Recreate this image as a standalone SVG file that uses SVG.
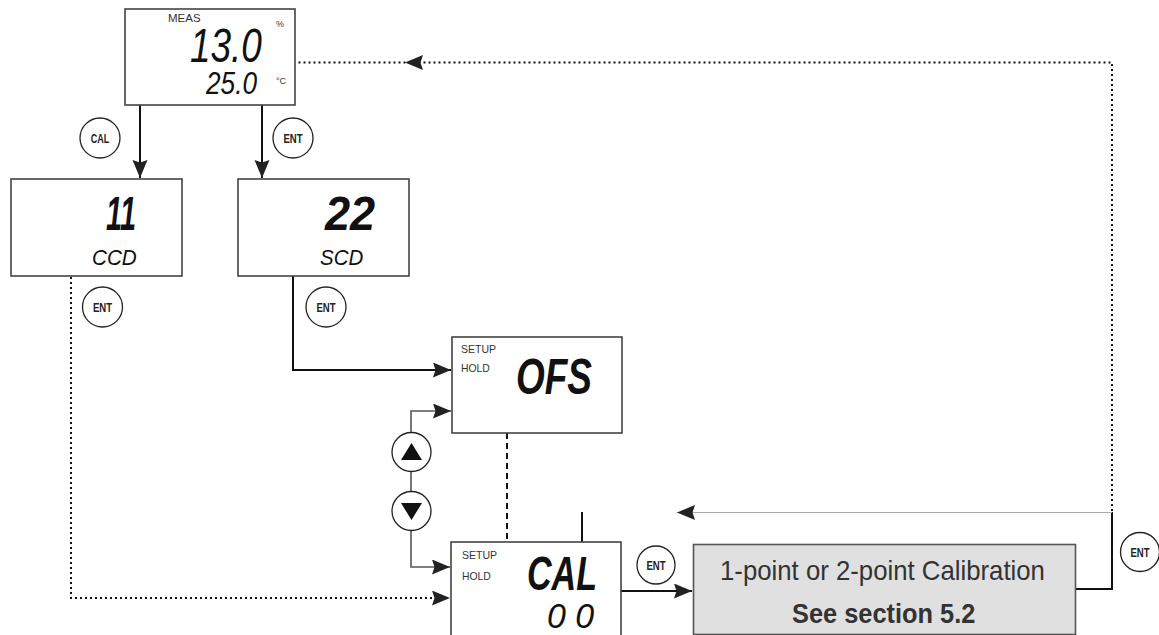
<svg xmlns="http://www.w3.org/2000/svg" width="1159" height="635" viewBox="0 0 1159 635">
<defs>
<style>
.box{fill:#fff;stroke:#444;stroke-width:1.6}
.calbox{fill:#e0e0e0;stroke:#555;stroke-width:1.6}
.btn{fill:#fff;stroke:#222;stroke-width:1.3}
.lbl{font-family:"Liberation Sans",Arial,sans-serif;fill:#333}
.seg{font-family:"Liberation Sans",Arial,sans-serif;font-style:italic;fill:#111}
.key{font-family:"Liberation Sans",Arial,sans-serif;font-weight:bold;font-size:12px;fill:#222;text-anchor:middle}
.solid{fill:none;stroke:#111;stroke-width:2}
.thin{fill:none;stroke:#555;stroke-width:1.6}
.dot{fill:none;stroke:#111;stroke-width:2;stroke-dasharray:2 3}
.dash{fill:none;stroke:#111;stroke-width:2;stroke-dasharray:6 4}
.grey{fill:none;stroke:#aaa;stroke-width:1.2}
</style>
<marker id="ah" markerUnits="userSpaceOnUse" markerWidth="19" markerHeight="16" refX="18" refY="7.5" orient="auto">
<path d="M0,0 L18,7.5 L0,15 L2.5,7.5 z" fill="#222"/>
</marker>
</defs>

<g id="connectors">
<path class="solid" d="M140,105 V178" marker-end="url(#ah)"/>
<path class="solid" d="M262,105 V178" marker-end="url(#ah)"/>
<path class="solid" d="M293,276 V370 H451" marker-end="url(#ah)"/>
<path class="dot" d="M71,277 V598 H450" marker-end="url(#ah)"/>
<path class="thin" d="M411,432 V411 H451" marker-end="url(#ah)"/>
<path class="thin" d="M411,472 V491"/>
<path class="thin" d="M411,531 V567 H450" marker-end="url(#ah)"/>
<path class="dash" d="M507,433 V541"/>
<path class="solid" d="M621,591 H692" marker-end="url(#ah)"/>
<path class="solid" d="M1076,589 H1112 V512"/>
<path class="dot" d="M1076,589 H1112"/>
<path class="grey" d="M1112,512.5 H677"/>
<path d="M677,512.5 L695,505 L692.5,512.5 L695,520 z" fill="#222"/>
<path class="solid" d="M582,512 V542"/>
<path class="dot" d="M1112,511 V62.5 H296"/>
<path d="M405,62.5 L423,55 L420.5,62.5 L423,70 z" fill="#222"/>
</g>

<g id="meas">
<rect class="box" x="125" y="9" width="170" height="96"/>
<text class="lbl" x="168" y="21.5" font-size="11.5">MEAS</text>
<text class="lbl" x="276" y="27" font-size="9">%</text>
<text class="seg" transform="translate(190,62) scale(0.77,1)" font-size="48">13.0</text>
<text class="seg" transform="translate(206,93.5) scale(0.846,1)" font-size="31">25.0</text>
<text class="lbl" x="276" y="84" font-size="9">°C</text>
</g>

<g id="key-cal"><circle class="btn" cx="100" cy="138" r="20"/><text class="key" transform="translate(100,142.5) scale(0.75,1)">CAL</text></g>
<g id="key-ent1"><circle class="btn" cx="293" cy="138" r="20"/><text class="key" transform="translate(293,142.5) scale(0.8,1)">ENT</text></g>

<g id="ccd">
<rect class="box" x="11" y="179" width="171" height="97"/>
<text class="seg" transform="translate(106,230) scale(0.6,1)" font-size="48" font-weight="bold">11</text>
<text class="seg" transform="translate(92,265) scale(0.94,1)" font-size="22">CCD</text>
</g>

<g id="scd">
<rect class="box" x="238" y="179" width="171" height="97"/>
<text class="seg" transform="translate(325,230) scale(0.94,1)" font-size="48" font-weight="bold">22</text>
<text class="seg" transform="translate(320,265) scale(0.93,1)" font-size="22">SCD</text>
</g>

<g id="key-ent2"><circle class="btn" cx="102.5" cy="307" r="20"/><text class="key" transform="translate(102.5,311.5) scale(0.8,1)">ENT</text></g>
<g id="key-ent3"><circle class="btn" cx="326" cy="307" r="20"/><text class="key" transform="translate(326,311.5) scale(0.8,1)">ENT</text></g>

<g id="ofs">
<rect class="box" x="452" y="337" width="170" height="96"/>
<text class="lbl" x="461" y="352.5" font-size="10.5">SETUP</text>
<text class="lbl" x="461" y="372" font-size="10.4">HOLD</text>
<text class="seg" transform="translate(516,393.5) scale(0.74,1)" font-size="50" font-weight="bold">OFS</text>
</g>

<g id="key-up"><circle class="btn" cx="411.5" cy="452" r="19.5"/><path d="M401,460 L411.5,443 L422,460 z" fill="#111"/></g>
<g id="key-down"><circle class="btn" cx="411.5" cy="511" r="19.5"/><path d="M401,503 L411.5,520 L422,503 z" fill="#111"/></g>

<g id="cal">
<rect class="box" x="451" y="542" width="170" height="100"/>
<text class="lbl" x="462" y="559" font-size="10.5">SETUP</text>
<text class="lbl" x="462" y="579.5" font-size="10.4">HOLD</text>
<text class="seg" transform="translate(527,589.5) scale(0.71,1)" font-size="48" font-weight="bold">CAL</text>
<text class="seg" transform="translate(547,627.5) scale(0.94,1)" font-size="36">0 0</text>
</g>

<g id="key-ent4"><circle class="btn" cx="656" cy="565" r="19"/><text class="key" transform="translate(656,569.5) scale(0.8,1)">ENT</text></g>

<g id="calibration">
<rect class="calbox" x="693.5" y="544.5" width="382" height="90"/>
<text class="lbl" transform="translate(720,580) scale(0.92,1)" font-size="28">1-point or 2-point Calibration</text>
<text class="lbl" transform="translate(792,623) scale(0.94,1)" font-size="27" font-weight="bold">See section 5.2</text>
</g>

<g id="key-ent5"><circle class="btn" cx="1140" cy="552" r="19.5"/><text class="key" transform="translate(1140,556.5) scale(0.8,1)">ENT</text></g>
</svg>
